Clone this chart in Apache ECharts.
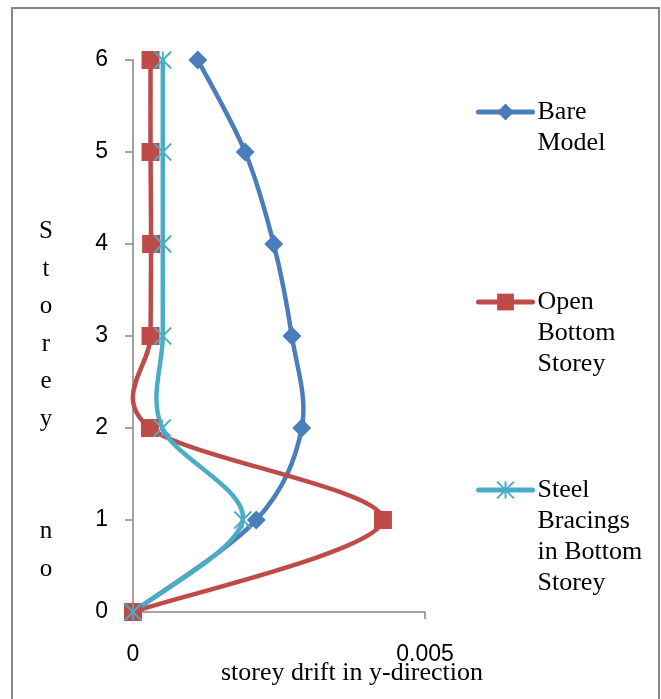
<!DOCTYPE html>
<html>
<head>
<meta charset="utf-8">
<script src="https://cdn.jsdelivr.net/npm/echarts@6/dist/echarts.min.js"></script>
<style>
html,body{margin:0;padding:0;background:#fff;}
#chart{width:661px;height:699px;}
</style>
</head>
<body>
<div id="chart"></div>
<script>
const storeys = [0, 1, 2, 3, 4, 5, 6];
const bareModel = [0, 0.00211, 0.00289, 0.00272, 0.00241, 0.00192, 0.00111];
const openBottomStorey = [0, 0.00428, 0.00029, 0.00030, 0.00031, 0.00030, 0.00030];
const steelBracings = [0, 0.00188, 0.00050, 0.00051, 0.00051, 0.00051, 0.00051];
const seriesNames = ['Bare Model', 'Open Bottom Storey', 'Steel Bracings in Bottom Storey'];
const legendLines = [['Bare', 'Model'], ['Open', 'Bottom', 'Storey'], ['Steel', 'Bracings', 'in Bottom', 'Storey']];
const xTicks = [0, 0.005];
const xTitle = 'storey drift in y-direction';
const yTitle = 'Storey  no';

const colors = ['#4A7EBB', '#BE4B48', '#4BACC6'];
const serif = '"Liberation Serif", "Times New Roman", serif';
const sans = '"Liberation Sans", Arial, sans-serif';
const starPath = 'path://M0,0L20,20M20,0L0,20M10,0L10,20';

const chart = echarts.init(document.getElementById('chart'), null, {renderer: 'canvas'});

function pairs(vals) { return storeys.map((s, i) => [vals[i], s]); }

// Smooth curve (Catmull-Rom style, like spreadsheet smoothing) through the
// pixel positions that the chart's own axes give for each data point.
function smoothCurve(vals, color) {
  return {
    type: 'custom',
    coordinateSystem: 'cartesian2d',
    data: pairs(vals),
    encode: {x: 0, y: 1},
    silent: true,
    z: 2,
    renderItem: (params, api) => {
      if (params.dataIndex !== 0) return null;
      const p = storeys.map((s, i) => api.coord([vals[i], s]));
      const n = p.length;
      const t = 1 / 6;
      let d = 'M' + p[0][0] + ' ' + p[0][1];
      for (let i = 0; i < n - 1; i++) {
        const a = p[Math.max(i - 1, 0)], b = p[i], c = p[i + 1], e = p[Math.min(i + 2, n - 1)];
        const c1x = b[0] + (c[0] - a[0]) * t, c1y = b[1] + (c[1] - a[1]) * t;
        const c2x = c[0] - (e[0] - b[0]) * t, c2y = c[1] - (e[1] - b[1]) * t;
        d += ' C' + c1x + ' ' + c1y + ' ' + c2x + ' ' + c2y + ' ' + c[0] + ' ' + c[1];
      }
      return {
        type: 'path',
        shape: {pathData: d},
        style: {fill: 'none', stroke: color, lineWidth: 4.5, lineCap: 'round', lineJoin: 'round'}
      };
    }
  };
}

const legendIconY = [112, 302, 490];
const LH = 31;
const legends = seriesNames.map((name, k) => {
  const n = legendLines[k].length;
  return {
    data: [name],
    left: 476,
    top: legendIconY[k] - (2 * n - 1) * LH / 2,
    padding: 0,
    itemWidth: 54,
    itemHeight: 21,
    itemGap: 5,
    selectedMode: false,
    formatter: () => '\n'.repeat(n - 1) + legendLines[k].join('\n'),
    lineStyle: {width: 5, cap: 'round', color: colors[k], opacity: 1},
    textStyle: {
      color: '#000',
      fontFamily: serif,
      fontSize: 26,
      lineHeight: LH
    }
  };
});

const vertYTitle = yTitle.split('').map(c => c === ' ' ? '' : c).join('\n');

function markerSeries(k, vals, symbol, size, itemStyle) {
  return {
    name: seriesNames[k],
    type: 'line',
    data: pairs(vals),
    symbol: symbol,
    symbolSize: size,
    z: 3,
    itemStyle: itemStyle,
    lineStyle: {color: colors[k], width: 0, opacity: 0}
  };
}

const option = {
  animation: false,
  backgroundColor: '#fff',
  grid: {left: 133, top: 60, right: 236, bottom: 87, containLabel: false},
  legend: legends,
  xAxis: {
    type: 'value',
    min: 0,
    max: 0.005,
    interval: 0.005,
    axisLine: {show: true, lineStyle: {color: '#868686', width: 1.5}},
    axisTick: {show: true, length: 7, lineStyle: {color: '#868686', width: 1.5}},
    splitLine: {show: false},
    axisLabel: {
      margin: 31,
      color: '#000',
      fontFamily: sans,
      fontSize: 23,
      formatter: v => xTicks.includes(v) ? (v === 0 ? '0' : String(v)) : ''
    }
  },
  yAxis: {
    type: 'value',
    min: 0,
    max: 6,
    interval: 1,
    axisLine: {show: true, lineStyle: {color: '#868686', width: 1.5}},
    axisTick: {show: true, length: 8, lineStyle: {color: '#868686', width: 1.5}},
    splitLine: {show: false},
    axisLabel: {margin: 25, color: '#000', fontFamily: sans, fontSize: 23}
  },
  graphic: [
    {
      type: 'rect',
      shape: {x: 12, y: 8, width: 647, height: 720},
      style: {fill: 'none', stroke: '#868686', lineWidth: 2},
      silent: true, z: -1
    },
    {
      type: 'text',
      x: 46, y: 213,
      style: {
        text: vertYTitle,
        font: '25px ' + serif,
        fill: '#000',
        align: 'center',
        verticalAlign: 'top',
        lineHeight: 37.5
      }
    },
    {
      type: 'text',
      x: 352, y: 673,
      style: {
        text: xTitle,
        font: '26px ' + serif,
        fill: '#000',
        align: 'center',
        verticalAlign: 'middle'
      }
    }
  ],
  series: [
    smoothCurve(bareModel, colors[0]),
    markerSeries(0, bareModel, 'diamond', 19, {color: colors[0]}),
    smoothCurve(openBottomStorey, colors[1]),
    markerSeries(1, openBottomStorey, 'rect', 18, {color: colors[1]}),
    smoothCurve(steelBracings, colors[2]),
    markerSeries(2, steelBracings, starPath, 17, {color: 'rgba(0,0,0,0)', borderColor: colors[2], borderWidth: 1.8})
  ]
};
chart.setOption(option);
</script>
</body>
</html>
